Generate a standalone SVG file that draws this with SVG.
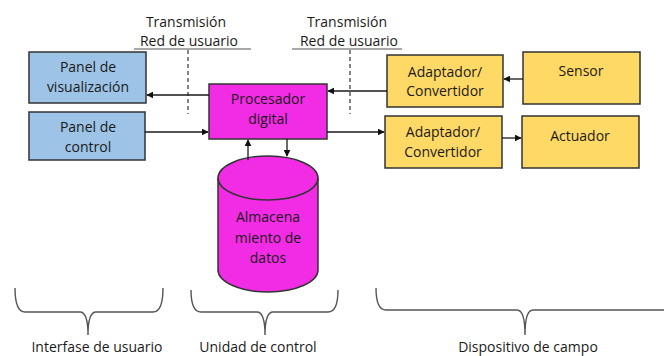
<svg xmlns="http://www.w3.org/2000/svg" width="664" height="356" viewBox="0 0 664 356">
  <defs>
    <marker id="arrow" viewBox="0 0 10 10" refX="9" refY="5" markerWidth="7" markerHeight="7" markerUnits="userSpaceOnUse" orient="auto">
      <path d="M0,0 L10,5 L0,10 z" fill="#111"/>
    </marker>
    <style>
      text { font-family: "Open Sans", "Liberation Sans", sans-serif; font-size: 14px; fill: #1a1a1a; text-anchor: middle; }
      .box { stroke: #333; stroke-width: 1.5; }
      .blue { fill: #9DC3E6; }
      .yellow { fill: #FFD966; }
      .magenta { fill: #F22CE4; }
      .edge { stroke: #1a1a1a; stroke-width: 1.3; fill: none; marker-end: url(#arrow); }
      .brace { stroke: #555; stroke-width: 1.4; fill: none; }
      .rule { stroke: #555; stroke-width: 1.2; }
      .dash { stroke: #333; stroke-width: 1.2; stroke-dasharray: 4 3; }
    </style>
  </defs>
  <rect width="664" height="356" fill="#fff"/>

  <!-- network labels -->
  <g id="net-left">
    <text x="186" y="27">Transmisión</text>
    <text x="189" y="46">Red de usuario</text>
    <line class="rule" x1="134" y1="49" x2="251" y2="49"/>
    <line class="dash" x1="188" y1="50" x2="188" y2="114"/>
  </g>
  <g id="net-right">
    <text x="347" y="27">Transmisión</text>
    <text x="349" y="46">Red de usuario</text>
    <line class="rule" x1="292" y1="49" x2="402" y2="49"/>
    <line class="dash" x1="350" y1="50" x2="350" y2="114"/>
  </g>

  <!-- nodes -->
  <g id="panel-visualizacion">
    <rect class="box blue" x="29" y="52" width="117" height="51"/>
    <text x="88" y="72">Panel de</text>
    <text x="88" y="92">visualización</text>
  </g>
  <g id="panel-control">
    <rect class="box blue" x="29" y="112" width="116" height="48"/>
    <text x="88" y="132">Panel de</text>
    <text x="88" y="152">control</text>
  </g>
  <g id="procesador">
    <rect class="box magenta" x="209" y="84" width="118" height="55"/>
    <text x="268" y="104">Procesador</text>
    <text x="268" y="124">digital</text>
  </g>
  <g id="almacenamiento">
    <path class="box magenta" d="M218,178 L218,270 A50,22 0 0 0 318,270 L318,178 A50,22 0 0 0 218,178 z"/>
    <path class="box" fill="none" d="M218,178 A50,22 0 0 0 318,178"/>
    <text x="268" y="222">Almacena</text>
    <text x="268" y="243">miento de</text>
    <text x="268" y="263">datos</text>
  </g>
  <g id="adaptador-entrada">
    <rect class="box yellow" x="387" y="55" width="116" height="52"/>
    <text x="445" y="77">Adaptador/</text>
    <text x="445" y="96">Convertidor</text>
  </g>
  <g id="sensor">
    <rect class="box yellow" x="523" y="52" width="117" height="52"/>
    <text x="581" y="76">Sensor</text>
  </g>
  <g id="adaptador-salida">
    <rect class="box yellow" x="385" y="116" width="117" height="52"/>
    <text x="443" y="137">Adaptador/</text>
    <text x="443" y="157">Convertidor</text>
  </g>
  <g id="actuador">
    <rect class="box yellow" x="522" y="116" width="117" height="52"/>
    <text x="580" y="141">Actuador</text>
  </g>

  <!-- connectors -->
  <g id="connectors">
    <line class="edge" x1="209" y1="95" x2="147" y2="95"/>
    <line class="edge" x1="145" y1="132" x2="208" y2="132"/>
    <line class="edge" x1="387" y1="91" x2="328" y2="91"/>
    <line class="edge" x1="523" y1="79" x2="504" y2="79"/>
    <line class="edge" x1="327" y1="132" x2="384" y2="132"/>
    <line class="edge" x1="502" y1="138" x2="521" y2="138"/>
    <line class="edge" x1="248" y1="160" x2="248" y2="140"/>
    <line class="edge" x1="287" y1="139" x2="287" y2="156"/>
  </g>

  <!-- grouping braces -->
  <g id="group-interfase">
    <path class="brace" d="M15,288 Q15,312 25,312 L80,312 Q88,312 88,335 Q88,312 96,312 L153,312 Q163,312 163,288"/>
    <text x="97" y="352">Interfase de usuario</text>
  </g>
  <g id="group-unidad">
    <path class="brace" d="M191,290 Q191,312 201,312 L257,312 Q265,312 265,335 Q265,312 273,312 L328,312 Q338,312 338,290"/>
    <text x="258" y="352">Unidad de control</text>
  </g>
  <g id="group-dispositivo">
    <path class="brace" d="M376,288 Q376,310 386,310 L517,310 Q525,310 525,335 Q525,310 533,310 L664,310"/>
    <text x="528" y="352">Dispositivo de campo</text>
  </g>
</svg>
